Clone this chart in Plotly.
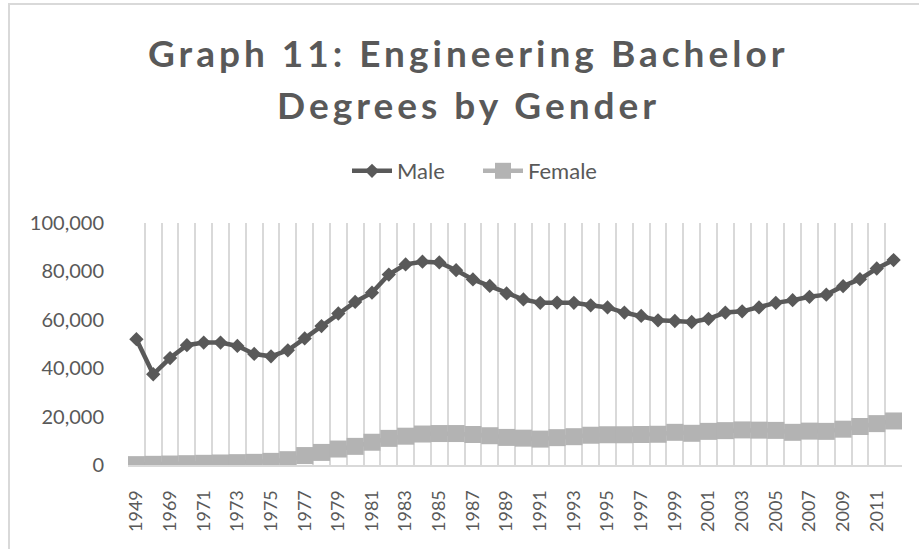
import plotly.graph_objects as go

categories = ["1949", "1959", "1969", "1970", "1971", "1972", "1973", "1974", "1975", "1976",
              "1977", "1978", "1979", "1980", "1981", "1982", "1983", "1984", "1985", "1986",
              "1987", "1988", "1989", "1990", "1991", "1992", "1993", "1994", "1995", "1996",
              "1997", "1998", "1999", "2000", "2001", "2002", "2003", "2004", "2005", "2006",
              "2007", "2008", "2009", "2010", "2011", "2012"]

male = [52000, 37500, 44200, 49500, 50600, 50600, 49200, 45900, 44900, 47400,
        52300, 57400, 62600, 67400, 71200, 78700, 82900, 84000, 83700, 80500,
        76700, 74000, 70900, 68400, 67000, 67100, 67000, 66000, 65100, 63000,
        61600, 59800, 59500, 59100, 60400, 63000, 63500, 65100, 67000, 68100,
        69500, 70400, 73900, 76800, 81200, 84700]

female = [150, 280, 400, 550, 700, 830, 970, 1100, 1500, 2200,
          3900, 5200, 6600, 7700, 9400, 11000, 11900, 12800, 13000, 13000,
          12600, 12100, 11400, 11100, 10700, 11300, 11700, 12300, 12500, 12500,
          12600, 12700, 13500, 13100, 13900, 14200, 14500, 14400, 14300, 13500,
          14000, 13900, 14800, 15900, 17100, 18200]

y_ticks = [0, 20000, 40000, 60000, 80000, 100000]
tick_labels = [c if i % 2 == 0 else "" for i, c in enumerate(categories)]

FONT = "Lato"
DARK = "#595959"
LIGHT = "#b3b3b3"
GRID = "#d9d9d9"

fig = go.Figure()
fig.add_trace(go.Scatter(
    x=categories, y=male, name="Male", mode="lines+markers",
    line=dict(color=DARK, width=4.5),
    marker=dict(symbol="diamond", size=11, color=DARK),
))
fig.add_trace(go.Scatter(
    x=categories, y=female, name="Female", mode="lines+markers",
    line=dict(color=LIGHT, width=4.5),
    marker=dict(symbol="square", size=17, color=LIGHT),
))

W, H = 919, 549
L, R, T, B = 128, 17, 223, 84
pw, ph = W - L - R, H - T - B

def px_x(x):
    return (x - L) / pw

def px_y(y):
    return (H - B - y) / ph

fig.update_layout(
    width=W, height=H,
    margin=dict(l=L, r=R, t=T, b=B, pad=0, autoexpand=False),
    paper_bgcolor="white", plot_bgcolor="white",
    font=dict(family=FONT, color=DARK, size=21),
    showlegend=True,
    legend=dict(orientation="h", x=px_x(478), y=px_y(171), xanchor="center", yanchor="middle",
                font=dict(size=22, color=DARK), bgcolor="rgba(0,0,0,0)", itemwidth=40,
                traceorder="normal", entrywidth=76, entrywidthmode="pixels"),
    xaxis=dict(
        type="category", tickmode="array", tickvals=categories, ticktext=tick_labels,
        tickangle=-90, tickson="boundaries", ticks="", showgrid=True, gridcolor=GRID,
        gridwidth=2, showline=True, linecolor=GRID, linewidth=2, zeroline=False,
        tickfont=dict(size=18, color=DARK), ticklabelstandoff=16, automargin=False,
        range=[-0.5, len(categories) - 0.5],
    ),
    yaxis=dict(
        range=[0, 100000], tickmode="array", tickvals=y_ticks, tickformat=",",
        showgrid=False, zeroline=False, showline=False, ticks="",
        tickfont=dict(size=20, color=DARK), ticklabelstandoff=23, automargin=False,
    ),
    annotations=[
        dict(text='<span style="letter-spacing:4px"><b>Graph 11: Engineering Bachelor</b></span>',
             xref="paper", yref="paper", x=px_x(468), y=px_y(53), xanchor="center", yanchor="middle",
             showarrow=False, font=dict(family=FONT, size=37, color=DARK)),
        dict(text='<span style="letter-spacing:4px"><b>Degrees by Gender</b></span>',
             xref="paper", yref="paper", x=px_x(468), y=px_y(104), xanchor="center", yanchor="middle",
             showarrow=False, font=dict(family=FONT, size=37, color=DARK)),
    ],
    shapes=[
        dict(type="rect", xref="paper", yref="paper", x0=px_x(9), x1=px_x(930),
             y0=px_y(560), y1=px_y(4), line=dict(color=GRID, width=2), layer="below"),
    ],
)

fig.write_html("out.html", config={"displayModeBar": False},
               post_script="document.body.style.margin='0';document.body.style.padding='0';")
